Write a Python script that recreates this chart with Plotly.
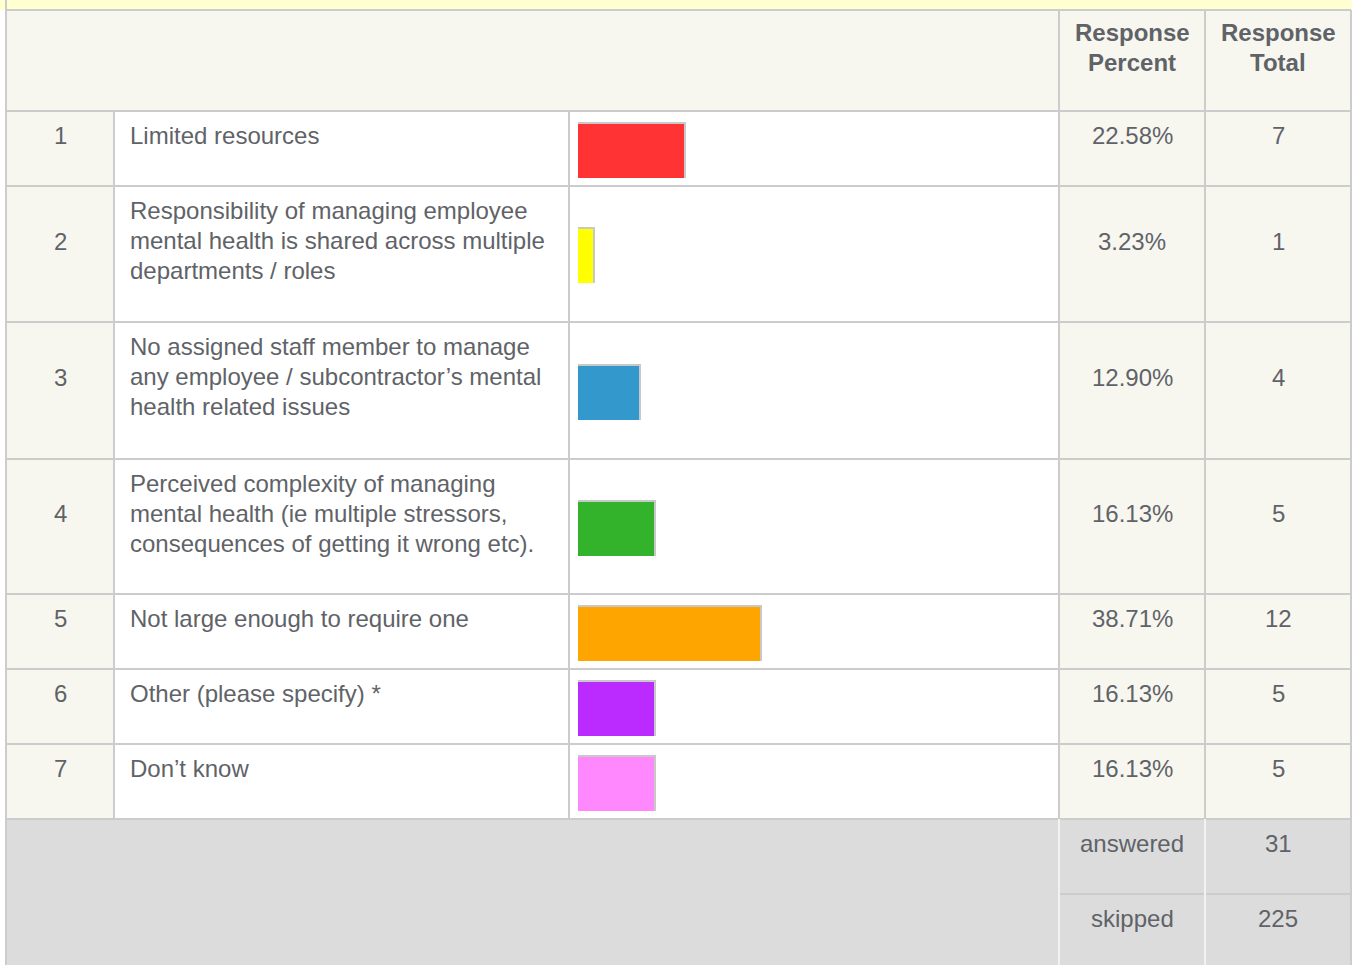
import plotly.graph_objects as go

# ---- survey results ----
row_numbers = ["1", "2", "3", "4", "5", "6", "7"]
answer_labels = [
    "Limited resources",
    "Responsibility of managing employee<br>mental health is shared across multiple<br>departments / roles",
    "No assigned staff member to manage<br>any employee / subcontractor\u2019s mental<br>health related issues",
    "Perceived complexity of managing<br>mental health (ie multiple stressors,<br>consequences of getting it wrong etc).",
    "Not large enough to require one",
    "Other (please specify) *",
    "Don\u2019t know",
]
response_percent = [22.58, 3.23, 12.90, 16.13, 38.71, 16.13, 16.13]
response_total = [7, 1, 4, 5, 12, 5, 5]
bar_colors = ["#FF3333", "#FFFF00", "#3399CC", "#33B22C", "#FFA500", "#BB2BFF", "#FF88FF"]
header_percent = "Response<br>Percent"
header_total = "Response<br>Total"
footer_labels = ["answered", "skipped"]
footer_values = [31, 225]

# ---- page geometry (pixels) ----
W, H = 1352, 965
row_edges = [111, 186, 322, 459, 594, 669, 744, 819]
col_x = [6, 114, 569, 1059, 1205, 1351]
footer_split = 894
bar_x0, bar_x100 = 578, 1048
px_per_pct = (bar_x100 - bar_x0) / 100.0

TEXT = "#5F6368"
GRID = "#CCCCCC"
CREAM = "#F7F7F0"
FONT = "Liberation Sans, Arial, sans-serif"
FS = 24

shapes = []


def rect(x0, y0, x1, y1, color):
    shapes.append(dict(type="rect", xref="x", yref="y", x0=x0, y0=y0, x1=x1, y1=y1,
                       fillcolor=color, line=dict(width=0), layer="below"))


def line(x0, y0, x1, y1, color=GRID, w=2):
    shapes.append(dict(type="line", xref="x", yref="y", x0=x0, y0=y0, x1=x1, y1=y1,
                       line=dict(color=color, width=w), layer="below"))


# backgrounds
rect(0, 0, W, 10, "#FFFFD2")
rect(col_x[0], 10, col_x[-1], row_edges[0], CREAM)
rect(col_x[0], row_edges[0], col_x[1], row_edges[-1], CREAM)
rect(col_x[3], row_edges[0], col_x[-1], row_edges[-1], CREAM)
rect(col_x[0], row_edges[-1], col_x[-1], H, "#DCDCDC")

# grid lines
line(col_x[0], 10, col_x[-1], 10)
for y in row_edges:
    line(col_x[0], y, col_x[-1], y)
line(col_x[3], footer_split, col_x[-1], footer_split)
line(col_x[0], 0, col_x[0], H)
line(col_x[-1], 10, col_x[-1], H)
line(col_x[1], row_edges[0], col_x[1], row_edges[-1])
line(col_x[2], row_edges[0], col_x[2], row_edges[-1])
for x in (col_x[3], col_x[4]):
    line(x, 10, x, row_edges[-1])
    line(x, row_edges[-1], x, H, color="#F2F2F2")

annotations = []


def text(x, y, s, anchor="center", bold=False):
    annotations.append(dict(xref="x", yref="y", x=x, y=y, text=f"<b>{s}</b>" if bold else s,
                            showarrow=False, xanchor=anchor, yanchor="middle",
                            font=dict(family=FONT, size=FS, color=TEXT)))


LINE_H = 30
for i, (top, bot) in enumerate(zip(row_edges[:-1], row_edges[1:])):
    # answer text is top-aligned; numbers sit just above the row's middle
    for k, part in enumerate(answer_labels[i].split("<br>")):
        text(128, top + 24 + k * LINE_H, part, anchor="left")
    ym = (top + bot) / 2 - 13
    text(60, ym, row_numbers[i])
    text(1132, ym, f"{response_percent[i]:.2f}%")
    text(1278, ym, str(response_total[i]))

for k, part in enumerate(header_percent.split("<br>")):
    text(1132, 32 + k * LINE_H, part, bold=True)
for k, part in enumerate(header_total.split("<br>")):
    text(1278, 32 + k * LINE_H, part, bold=True)

footer_tops = [row_edges[-1], footer_split]
for lab, val, top in zip(footer_labels, footer_values, footer_tops):
    text(1132, top + 24, lab)
    text(1278, top + 24, str(val))

# bar positions: vertically centred in each answer row
centers = [(a + b) / 2 + 2 for a, b in zip(row_edges[:-1], row_edges[1:])]
shadow_pad = 2 / px_per_pct

fig = go.Figure()
fig.add_trace(go.Bar(
    orientation="h", x=[p + shadow_pad for p in response_percent], y=[c - 1 for c in centers],
    base=0, width=56, marker=dict(color="#C8C8C8", line=dict(width=0)),
    xaxis="x2", yaxis="y", hoverinfo="skip", showlegend=False))
fig.add_trace(go.Bar(
    orientation="h", x=response_percent, y=centers, base=0, width=54,
    marker=dict(color=bar_colors, line=dict(width=0)),
    xaxis="x2", yaxis="y", hoverinfo="skip", showlegend=False))

fig.update_layout(
    width=W, height=H, margin=dict(l=0, r=0, t=0, b=0),
    paper_bgcolor="white", plot_bgcolor="rgba(0,0,0,0)",
    barmode="overlay", bargap=0,
    xaxis=dict(range=[0, W], visible=False, fixedrange=True, domain=[0, 1]),
    xaxis2=dict(range=[0, 100], visible=False, fixedrange=True, anchor="y",
                domain=[bar_x0 / W, bar_x100 / W]),
    yaxis=dict(range=[H, 0], visible=False, fixedrange=True, domain=[0, 1]),
    shapes=shapes, annotations=annotations,
)

fig.write_html("out.html", config={"displayModeBar": False})
